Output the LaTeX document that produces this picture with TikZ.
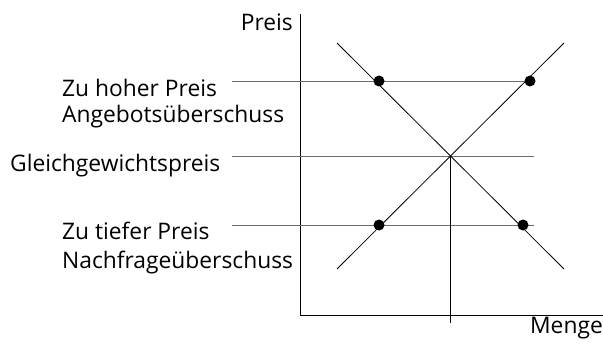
\documentclass[tikz,border=0pt]{standalone}
\usepackage{fontspec}
\setmainfont{Open Sans}
\begin{document}
\begin{tikzpicture}[x=1pt,y=-1pt,
  lbl/.style={inner sep=0pt,font=\fontsize{22.8}{26}\selectfont},
  axis/.style={black,line width=0.9pt},
  curve/.style={black,line width=0.8pt},
  level/.style={gray!85!black,line width=0.9pt},
  dotm/.style={circle,fill=black,inner sep=0pt,minimum size=11pt}]
\useasboundingbox (0,0) rectangle (603,345);
% axes
\coordinate (O) at (300,315);
\coordinate (ytop) at (300,14);
\coordinate (xend) at (603,315);
\draw[axis] (ytop) -- (O) -- (xend);
% curves
\coordinate (d1) at (337,43);
\coordinate (d2) at (564,269);
\coordinate (s1) at (337,269);
\coordinate (s2) at (564,43);
\coordinate (E) at (450.5,156);
\coordinate (Eb) at (450.5,323);
% levels
\coordinate (h1) at (232,81);
\coordinate (h2) at (530,81);
\coordinate (m1) at (232,156);
\coordinate (m2) at (534,156);
\coordinate (l1) at (232,225);
\coordinate (l2) at (534,225);
\draw[level] (h1) -- (h2);
\draw[level] (m1) -- (m2);
\draw[level] (l1) -- (l2);
\draw[curve] (E) -- (Eb);
\draw[curve] (d1) -- (d2);
\draw[curve] (s1) -- (s2);
% dots
\node[dotm] (p1) at (379,81) {};
\node[dotm] (p2) at (530,81) {};
\node[dotm] (p3) at (379,225) {};
\node[dotm] (p4) at (523,225) {};
% labels
\node[lbl,anchor=base east] (preis) at (293,31) {Preis};
\node[lbl,anchor=base west] (hoch) at (62,97) {Zu hoher Preis};
\node[lbl,anchor=base west] (ang) at (62,123) {Angebotsüberschuss};
\node[lbl,anchor=base west] (gg) at (10,171) {Gleichgewichtspreis};
\node[lbl,anchor=base west] (tief) at (62,239) {Zu tiefer Preis};
\node[lbl,anchor=base west] (nach) at (62,268) {Nachfrageüberschuss};
\node[lbl,anchor=base east] (menge) at (603,333) {Menge};
\end{tikzpicture}
\end{document}
